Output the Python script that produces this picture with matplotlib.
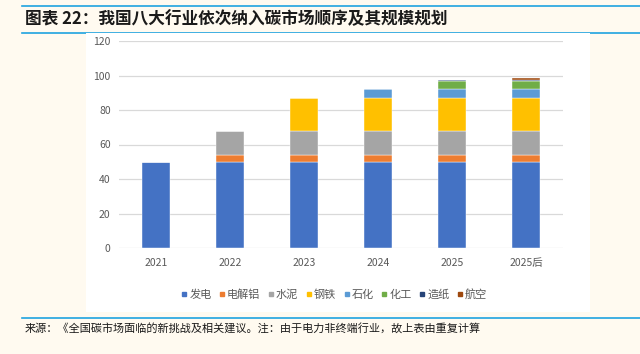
import matplotlib
matplotlib.use('Agg')
import matplotlib.pyplot as plt
from matplotlib.lines import Line2D
import numpy as np

plt.rcParams['font.family'] = ['Noto Sans CJK SC', 'DejaVu Sans']

years = ['2021', '2022', '2023', '2024', '2025', '2025后']
industries = ['发电', '电解铝', '水泥', '钢铁', '石化', '化工', '造纸', '航空']
colors = ['#4472C4', '#ED7D31', '#A5A5A5', '#FFC000', '#5B9BD5', '#70AD47', '#264478', '#9E480E']

fadian = [50, 50, 50, 50, 50, 50]
dianjielv = [0, 4, 4, 4, 4, 4]
shuini = [0, 14, 14, 14, 14, 14]
gangtie = [0, 0, 19, 19, 19, 19]
shihua = [0, 0, 0, 5, 5, 5]
huagong = [0, 0, 0, 0, 4.6, 4.6]
zaozhi = [0, 0, 0, 0, 0.9, 0.9]
hangkong = [0, 0, 0, 0, 0, 0.8]
series = [fadian, dianjielv, shuini, gangtie, shihua, huagong, zaozhi, hangkong]

BG = '#FFFAF0'
LINE_BLUE = '#1FA3E0'

fig = plt.figure(figsize=(6.4, 3.54), dpi=100, facecolor=BG)

# decorative lines and white panel
for yy in (6, 33, 318):
    fig.add_artist(Line2D([22/640, 1], [1-yy/354]*2, color=LINE_BLUE, lw=1.2, zorder=0.2))
panel = plt.Rectangle((86/640, 1-312/354), (590-86)/640, (312-33)/354,
                      transform=fig.transFigure, facecolor='white', edgecolor='none', zorder=0.5)
fig.add_artist(panel)

fig.text(25/640, 1-19/354, '图表 22：我国八大行业依次纳入碳市场顺序及其规模规划',
         fontsize=12, fontweight='bold', color='#1a1a1a', va='center', ha='left')
fig.text(25/640, 1-328/354, '来源：《全国碳市场面临的新挑战及相关建议。注：由于电力非终端行业，故上表由重复计算',
         fontsize=8, color='#1a1a1a', va='center', ha='left')

ax = fig.add_axes([119/640, 1-248/354, (563-119)/640, (248-41)/354])
ax.set_zorder(1)
ax.set_facecolor('none')

x = np.arange(len(years))
bottom = np.zeros(len(years))
for name, vals, c in zip(industries, series, colors):
    vals = np.array(vals, dtype=float)
    ax.bar(x, vals, 0.39, bottom=bottom, color=c, label=name, zorder=3,
           edgecolor='white', linewidth=0.3)
    bottom += vals

ax.set_ylim(0, 120)
ax.set_yticks(range(0, 121, 20))
ax.set_xlim(-0.5, len(years) - 0.5)
ax.set_xticks(x)
ax.set_xticklabels(years)
ax.yaxis.grid(True, color='#D9D9D9', lw=0.9, zorder=0)
for s in ax.spines.values():
    s.set_visible(False)
ax.tick_params(length=0, colors='#595959', labelsize=7.5)
ax.tick_params(axis='x', pad=7)
ax.tick_params(axis='y', pad=6)

handles = [Line2D([], [], marker='s', ls='none', color=c, markersize=3.5) for c in colors]
ax.legend(handles, industries, loc='upper center', bbox_to_anchor=(0.485, -0.15), ncol=8,
          frameon=False, fontsize=8, handlelength=0.5, handletextpad=0.2,
          columnspacing=0.7, labelcolor='#595959')

fig.savefig('out.png', dpi=100, facecolor=BG)
